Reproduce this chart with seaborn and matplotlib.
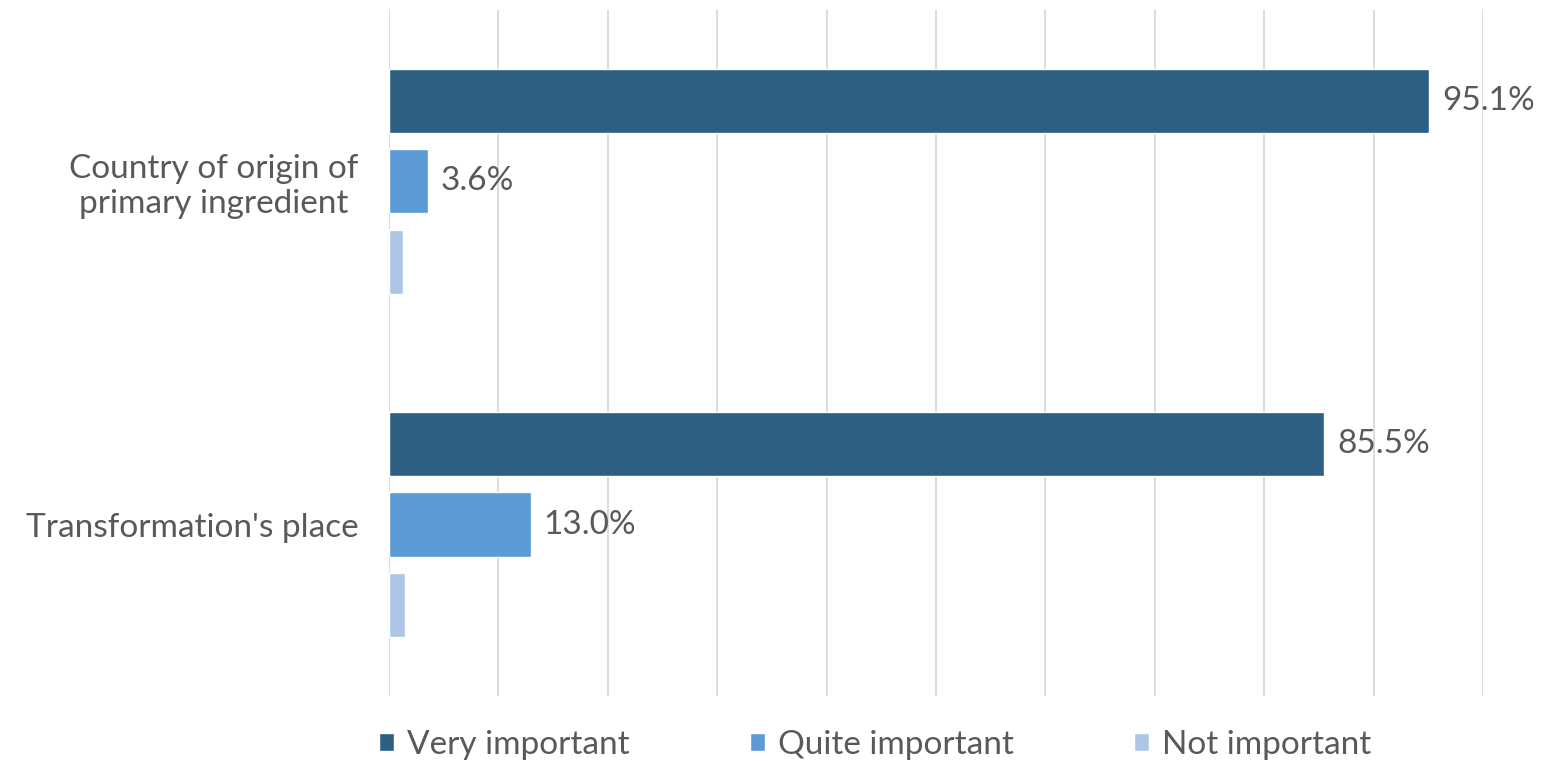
import matplotlib
matplotlib.use("Agg")
import matplotlib.pyplot as plt
import seaborn as sns
import pandas as pd

# Survey results: importance of origin information
categories = ["Country of origin of\nprimary ingredient", "Transformation's place"]
levels = ["Very important", "Quite important", "Not important"]
very_important = [95.1, 85.5]
quite_important = [3.6, 13.0]
not_important = [1.3, 1.5]
labelled_levels = ["Very important", "Quite important"]

colors = ["#2C5F82", "#5B9BD5", "#ADC6E6"]
text_color = "#595959"

rows = []
for i, cat in enumerate(categories):
    for lvl, vals in zip(levels, [very_important, quite_important, not_important]):
        rows.append({"category": cat, "level": lvl, "value": vals[i]})
df = pd.DataFrame(rows)

sns.set_theme(style="white")
plt.rcParams["font.family"] = ["Lato", "DejaVu Sans"]

fig = plt.figure(figsize=(15.41, 7.61), dpi=100)
ax = fig.add_axes([0.2524, 0.0854, 0.71, 0.9015])

sns.barplot(data=df, y="category", x="value", hue="level", order=categories,
            hue_order=levels, palette=colors, orient="h", width=0.7, gap=0.2,
            saturation=1, ax=ax, legend=True)

ax.set_xlim(0, 100)
ax.set_ylim(1.5, -0.5)
ax.set_xticks(range(0, 101, 10))
ax.set_xticklabels([])
ax.xaxis.grid(True, color="#D9D9D9", linewidth=1.3)
ax.set_axisbelow(True)
for s in ax.spines.values():
    s.set_visible(False)
ax.tick_params(axis="both", length=0)
ax.tick_params(axis="y", pad=22, labelsize=24, labelcolor=text_color)
ax.set_xlabel("")
ax.set_ylabel("")
for lbl in ax.get_yticklabels():
    lbl.set_horizontalalignment("right")
    lbl.set_multialignment("center")

for container, lvl in zip(ax.containers, levels):
    if lvl in labelled_levels:
        ax.bar_label(container, fmt="%.1f%%", padding=9, fontsize=24, color=text_color)

handles, labels = ax.get_legend_handles_labels()
ax.legend(handles, labels, loc="center", bbox_to_anchor=(0.568, 0.021),
          bbox_transform=fig.transFigure, ncol=3, frameon=False, fontsize=24,
          labelcolor=text_color, handlelength=0.45, handleheight=0.45,
          handletextpad=0.4, columnspacing=3.6, borderpad=0, borderaxespad=0)

fig.savefig("out.png", dpi=100)
